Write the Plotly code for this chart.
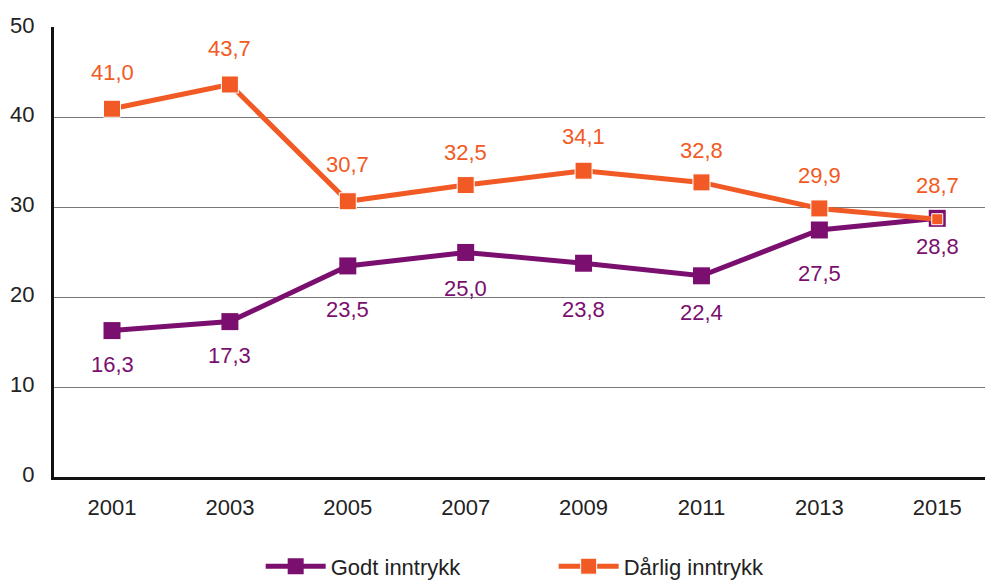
import plotly.graph_objects as go

years = [2001, 2003, 2005, 2007, 2009, 2011, 2013, 2015]
godt = [16.3, 17.3, 23.5, 25.0, 23.8, 22.4, 27.5, 28.8]
darlig = [41.0, 43.7, 30.7, 32.5, 34.1, 32.8, 29.9, 28.7]
y_ticks = [0, 10, 20, 30, 40, 50]

PURPLE = "#7B0F6F"
ORANGE = "#F15A24"
FONT = "Liberation Sans"
FS = 22

def fmt(v):
    return f"{v:.1f}".replace(".", ",")

fig = go.Figure()
fig.add_trace(go.Scatter(
    x=years, y=godt, name="Godt inntrykk", mode="lines+markers",
    line=dict(color=PURPLE, width=5),
    marker=dict(symbol="square", size=17, color=PURPLE, opacity=1),
))
o_sizes = [17] * (len(years) - 1) + [11]
fig.add_trace(go.Scatter(
    x=years, y=darlig, name="Dårlig inntrykk", mode="lines+markers",
    line=dict(color=ORANGE, width=5),
    marker=dict(symbol="square", size=o_sizes, color=ORANGE, opacity=1),
))

g_shift = [-34, -34, -44, -36, -46, -37, -44, -28]
d_shift = [36, 36, 37, 33, 34, 32, 33, 34]
for x, g, d, gs, ds in zip(years, godt, darlig, g_shift, d_shift):
    fig.add_annotation(x=x, y=g, text=fmt(g), showarrow=False, yshift=gs,
                       font=dict(color=PURPLE, size=FS, family=FONT))
    fig.add_annotation(x=x, y=d, text=fmt(d), showarrow=False, yshift=ds,
                       font=dict(color=ORANGE, size=FS, family=FONT))

fig.update_layout(
    width=985, height=584,
    margin=dict(l=54, r=0, t=27, b=107, autoexpand=False),
    plot_bgcolor="white", paper_bgcolor="white",
    font=dict(family=FONT, size=FS, color="#222"),
    showlegend=True,
    legend=dict(orientation="h", x=0.222, xanchor="left", y=-0.152, yanchor="top",
                font=dict(size=FS, color="#222"), itemwidth=60,
                tracegroupgap=0, entrywidth=218),
)
fig.update_xaxes(
    range=[2000.016, 2015.81], tickvals=years, ticktext=[str(y) for y in years],
    showgrid=False, showline=True, linecolor="#111", linewidth=3,
    ticks="", ticklabelstandoff=9, zeroline=False,
)
fig.update_yaxes(
    range=[0, 50.1], tickvals=y_ticks, showgrid=True, gridcolor="#777", gridwidth=1,
    showline=True, linecolor="#111", linewidth=3, ticks="", ticklabelstandoff=12,
    ticklabelshift=-3, zeroline=False,
)

fig.write_html("out.html", config={"displayModeBar": False},
               post_script="document.body.style.margin='0px';")
